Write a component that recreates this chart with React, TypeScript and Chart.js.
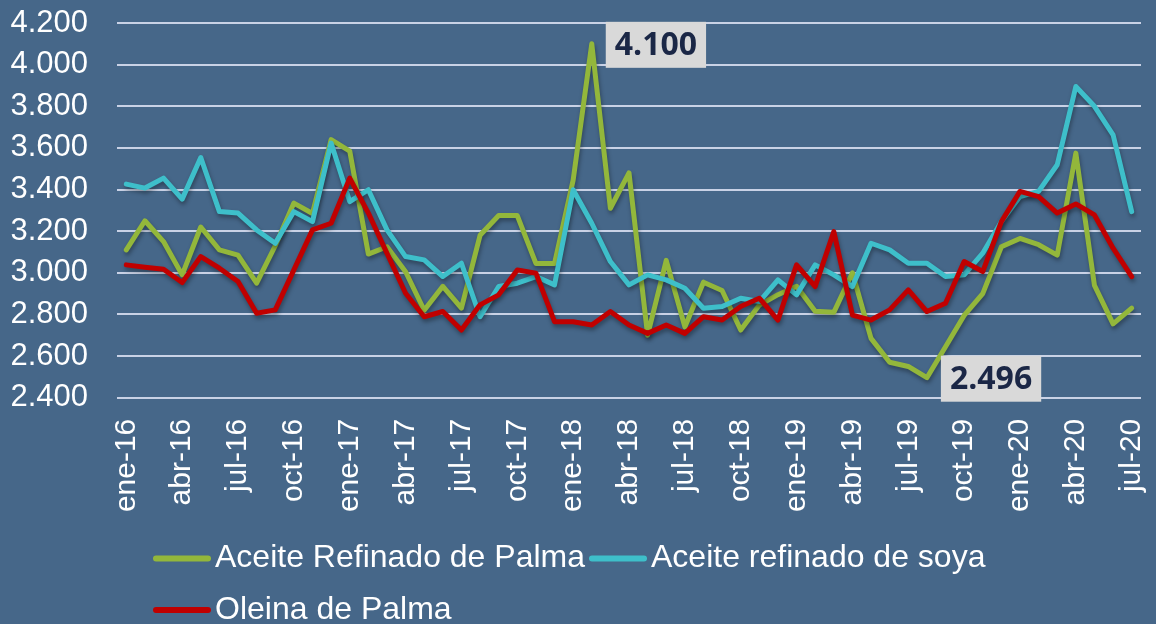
import React, { useEffect, useRef } from "react";
import { Chart, registerables } from "chart.js";

Chart.register(...registerables);

const categories = [
  "ene-16", "feb-16", "mar-16", "abr-16", "may-16", "jun-16", "jul-16", "ago-16", "sep-16", "oct-16", "nov-16", "dic-16",
  "ene-17", "feb-17", "mar-17", "abr-17", "may-17", "jun-17", "jul-17", "ago-17", "sep-17", "oct-17", "nov-17", "dic-17",
  "ene-18", "feb-18", "mar-18", "abr-18", "may-18", "jun-18", "jul-18", "ago-18", "sep-18", "oct-18", "nov-18", "dic-18",
  "ene-19", "feb-19", "mar-19", "abr-19", "may-19", "jun-19", "jul-19", "ago-19", "sep-19", "oct-19", "nov-19", "dic-19",
  "ene-20", "feb-20", "mar-20", "abr-20", "may-20", "jun-20", "jul-20",
];

const tickLabels = [
  "ene-16", "abr-16", "jul-16", "oct-16", "ene-17", "abr-17", "jul-17", "oct-17", "ene-18", "abr-18",
  "jul-18", "oct-18", "ene-19", "abr-19", "jul-19", "oct-19", "ene-20", "abr-20", "jul-20",
];

const palmaRefinado = [
  3110, 3250, 3150, 2990, 3220, 3110, 3085, 2950, 3130, 3335, 3285, 3640, 3585,
  3090, 3125, 3005, 2820, 2935, 2830, 3180, 3275, 3275, 3045, 3045, 3445, 4100, 3310, 3480, 2700,
  3060, 2740, 2955, 2915, 2725, 2845, 2895, 2935, 2815, 2810, 3000, 2685, 2570, 2550, 2496,
  2645, 2795, 2900, 3125, 3165, 3135, 3085, 3575, 2940, 2755, 2830,
];

const soyaRefinado = [
  3426, 3407, 3455, 3354, 3554, 3294, 3287, 3206, 3142, 3294, 3246, 3623, 3342,
  3399, 3206, 3078, 3062, 2982, 3046, 2789, 2934, 2950, 2982, 2942, 3399, 3238, 3054, 2942, 2990,
  2966, 2926, 2830, 2838, 2878, 2862, 2966, 2894, 3038, 2990, 2934, 3142, 3110, 3046, 3046,
  2982, 2990, 3094, 3246, 3366, 3391, 3519, 3895, 3800, 3663, 3294,
];

const oleinaPalma = [
  3038, 3027, 3017, 2953, 3078, 3022, 2958, 2806, 2822, 3014, 3206, 3238, 3455,
  3287, 3094, 2902, 2789, 2814, 2725, 2846, 2894, 3014, 2998, 2765, 2765, 2749, 2814, 2749, 2709,
  2749, 2709, 2789, 2773, 2838, 2878, 2773, 3038, 2934, 3198, 2797, 2773, 2822, 2918, 2814,
  2854, 3054, 3006, 3246, 3391, 3366, 3287, 3331, 3278, 3118, 2982,
];

const seriesNames = ["Aceite Refinado de Palma", "Aceite refinado de soya", "Oleina de Palma"];
const seriesColors = ["#93b73b", "#3ebfca", "#c00000"];
const highlighted = [
  { series: 0, index: 25 },
  { series: 0, index: 43 },
];

const yMin = 2400;
const yMax = 4200;
const yStep = 200;

const fmt = (v: number) => String(Math.round(v)).replace(/\B(?=(\d{3})+(?!\d))/g, ".");

const BG = "#466789";

const bgPlugin = {
  id: "bgFill",
  beforeDraw(chart: any) {
    const { ctx, width, height } = chart;
    ctx.save();
    ctx.fillStyle = BG;
    ctx.fillRect(0, 0, width, height);
    ctx.restore();
  },
};

const shadowPlugin = {
  id: "lineShadow",
  beforeDatasetsDraw(chart: any) {
    const ctx = chart.ctx;
    ctx.save();
    ctx.shadowColor = "rgba(0,0,0,0.35)";
    ctx.shadowBlur = 4;
    ctx.shadowOffsetX = 1;
    ctx.shadowOffsetY = 3;
  },
  afterDatasetsDraw(chart: any) {
    chart.ctx.restore();
  },
};

const valueLabelPlugin = {
  id: "valueLabels",
  afterDraw(chart: any) {
    const ctx = chart.ctx;
    ctx.save();
    ctx.font = "bold 32px 'Open Sans', 'DejaVu Sans', sans-serif";
    ctx.textBaseline = "middle";
    ctx.textAlign = "left";
    highlighted.forEach((h) => {
      const meta = chart.getDatasetMeta(h.series);
      const pt = meta.data[h.index];
      if (!pt) return;
      const value = chart.data.datasets[h.series].data[h.index] as number;
      const text = fmt(value);
      const tw = ctx.measureText(text).width;
      const padX = 9;
      const boxH = 46;
      const bx = pt.x + 14;
      const by = pt.y - boxH / 2 + 1;
      ctx.fillStyle = "#d9d9d9";
      ctx.fillRect(bx, by, tw + padX * 2, boxH);
      ctx.fillStyle = "#1b2746";
      ctx.fillText(text, bx + padX, by + boxH / 2 + 1);
    });
    ctx.restore();
  },
};

const legendPlugin = {
  id: "customLegend",
  afterDraw(chart: any) {
    const ctx = chart.ctx;
    ctx.save();
    ctx.font = "32px 'Liberation Sans', Arial, sans-serif";
    ctx.textBaseline = "middle";
    ctx.textAlign = "left";
    const startX = 153;
    const maxX = 1010;
    const lineLen = 58;
    const rowH = 51.5;
    let x = startX;
    let y = 558.5;
    chart.data.datasets.forEach((ds: any) => {
      const tw = ctx.measureText(ds.label).width;
      const itemW = lineLen + 4 + tw;
      if (x + itemW > maxX && x !== startX) {
        x = startX;
        y += rowH;
      }
      ctx.strokeStyle = ds.borderColor;
      ctx.lineWidth = 6;
      ctx.lineCap = "round";
      ctx.beginPath();
      ctx.moveTo(x + 3, y);
      ctx.lineTo(x + lineLen - 3, y);
      ctx.stroke();
      ctx.fillStyle = "#ffffff";
      ctx.fillText(ds.label, x + lineLen + 4, y);
      x += itemW + 4;
    });
    ctx.restore();
  },
};

export default function App() {
  const canvasRef = useRef<HTMLCanvasElement | null>(null);

  useEffect(() => {
    document.body.style.margin = "0";
    document.body.style.background = BG;
    const canvas = canvasRef.current;
    if (!canvas) return;
    const seriesData = [palmaRefinado, soyaRefinado, oleinaPalma];
    const chart = new Chart(canvas, {
      type: "line",
      data: {
        labels: categories,
        datasets: seriesData.map((d, i) => ({
          label: seriesNames[i],
          data: d,
          borderColor: seriesColors[i],
          backgroundColor: seriesColors[i],
          borderWidth: 5,
          pointRadius: 0,
          pointHoverRadius: 0,
          tension: 0,
          fill: false,
          borderJoinStyle: "round" as const,
          borderCapStyle: "round" as const,
          order: 3 - i,
        })),
      },
      options: {
        responsive: false,
        animation: false,
        events: [],
        layout: { padding: { top: 23, right: 15, left: 0, bottom: 0 } },
        plugins: {
          legend: { display: false },
          tooltip: { enabled: false },
          title: { display: false },
        },
        scales: {
          x: {
            type: "category",
            offset: true,
            grid: {
              display: true,
              drawOnChartArea: false,
              drawTicks: true,
              tickLength: 21,
              color: "rgba(0,0,0,0)",
              tickColor: "rgba(0,0,0,0)",
            },
            border: { display: false },
            ticks: {
              autoSkip: false,
              minRotation: 90,
              maxRotation: 90,
              padding: 0,
              color: "#ffffff",
              font: { family: "'Liberation Sans', Arial, sans-serif", size: 30 },
              callback: (_v: any, idx: number) =>
                tickLabels.includes(categories[idx]) ? categories[idx] : "",
            },
            afterFit: (scale: any) => {
              scale.height = 226.3;
              scale.paddingLeft = 0;
              scale.paddingRight = 0;
            },
          },
          y: {
            min: yMin,
            max: yMax,
            grid: {
              color: "#c9d2e6",
              lineWidth: 2,
              drawTicks: true,
              tickLength: 29,
              tickColor: "rgba(0,0,0,0)",
            },
            border: { display: false },
            ticks: {
              stepSize: yStep,
              autoSkip: false,
              padding: 0,
              color: "#ffffff",
              font: { family: "'Liberation Sans', Arial, sans-serif", size: 31 },
              callback: (v: any) => fmt(Number(v)),
            },
            afterFit: (scale: any) => {
              scale.width = 117;
            },
          },
        },
      },
      plugins: [bgPlugin, shadowPlugin, valueLabelPlugin, legendPlugin],
    });
    return () => chart.destroy();
  }, []);

  return (
    <div style={{ width: 1156, height: 624, background: BG }}>
      <canvas ref={canvasRef} width={1156} height={624} style={{ display: "block" }} />
    </div>
  );
}
